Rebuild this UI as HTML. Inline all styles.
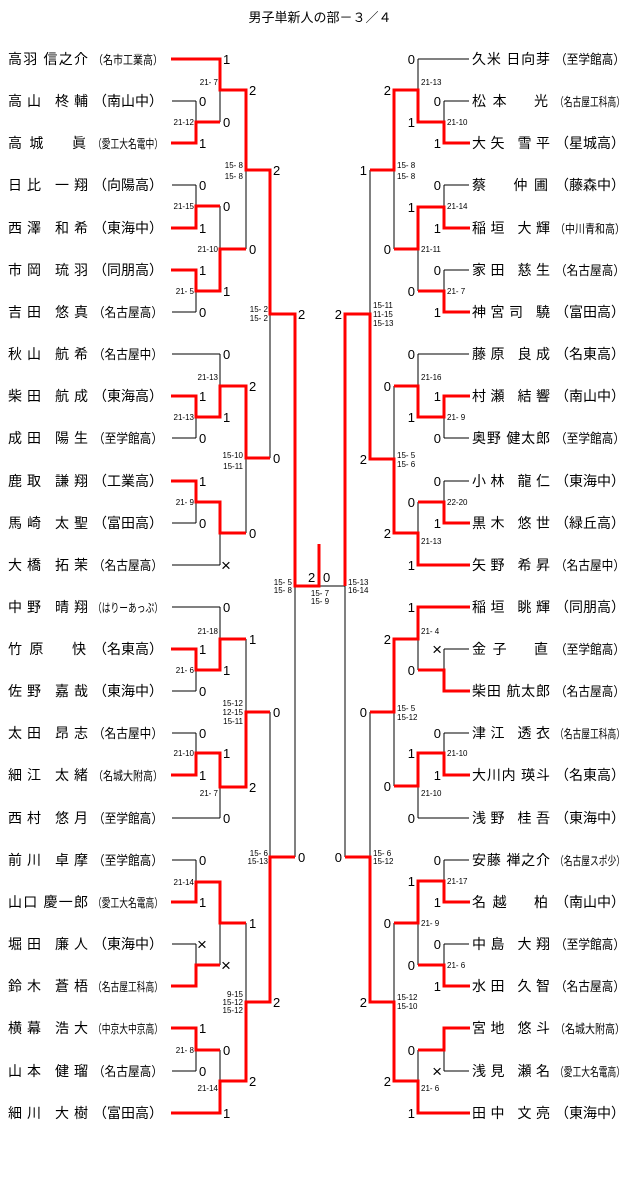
<!DOCTYPE html>
<html><head><meta charset="utf-8"><style>
html,body{margin:0;padding:0;background:#fff;}
svg{display:block;}
.n{font-family:"Liberation Sans","Noto Sans CJK JP",sans-serif;font-size:14px;fill:#000;}
.s{font-family:"Liberation Sans","Noto Sans CJK JP",sans-serif;font-size:12px;fill:#000;}
.c{font-family:"Liberation Sans",sans-serif;font-size:13px;fill:#000;}
.x{font-size:17px;}
.l{font-family:"Liberation Sans",sans-serif;font-size:8px;fill:#000;white-space:pre;}
.k{fill:none;stroke:#000;stroke-width:1;}
.r{fill:none;stroke:#f00;stroke-width:3;}
</style></head><body>
<svg width="640" height="1193" viewBox="0 0 640 1193" xmlns="http://www.w3.org/2000/svg">
<text x="320" y="22" text-anchor="middle" class="n" style="font-size:13px">男子単新人の部－３／４</text>

<path class="k" d="
M172 59H220 M172 101H196 M172 143H196 M172 185H196 M172 228H196 M172 270H196 M172 312H196
M172 354H220 M172 396H196 M172 438H196 M172 481H196 M172 523H196 M172 565H220
M172 607H220 M172 649H196 M172 691H196 M172 733H196 M172 775H196 M172 818H220
M172 860H196 M172 902H196 M172 944H196 M172 986H196 M172 1028H196 M172 1071H196 M172 1113H220
M196 101V143 M196 185V228 M196 270V312 M196 396V438 M196 481V523 M196 649V691 M196 733V775 M196 860V902 M196 944V986 M196 1028V1071
M196 122H220 M196 206H220 M196 291H220 M196 417H220 M196 502H220 M196 670H220 M196 753H220 M196 882H220 M196 965H220 M196 1050H220
M220 59V122 M220 206V291 M220 354V417 M220 502V565 M220 607V670 M220 753V818 M220 882V965 M220 1050V1113
M220 90H246 M220 249H246 M220 386H246 M220 533H246 M220 639H246 M220 787H246 M220 923H246 M220 1081H246
M246 90V249 M246 386V533 M246 639V787 M246 923V1081
M246 170H270 M246 458H270 M246 712H270 M246 1002H270
M270 170V458 M270 712V1002 M270 314H295 M270 857H295
M295 314V857 M295 586H345 M345 314V857
M469 59H418 M469 101H444 M469 143H444 M469 185H444 M469 228H444 M469 270H444 M469 312H444
M469 354H418 M469 396H444 M469 438H444 M469 481H444 M469 523H444 M469 565H418
M469 607H418 M469 649H444 M469 691H444 M469 733H444 M469 775H444 M469 818H418
M469 860H444 M469 902H444 M469 944H444 M469 986H444 M469 1028H444 M469 1071H444 M469 1113H418
M444 101V143 M444 185V228 M444 270V312 M444 396V438 M444 481V523 M444 649V691 M444 733V775 M444 860V902 M444 944V986 M444 1028V1071
M444 122H418 M444 207H418 M444 291H418 M444 417H418 M444 502H418 M444 670H418 M444 753H418 M444 881H418 M444 965H418 M444 1050H418
M418 59V122 M418 207V291 M418 354V417 M418 502V565 M418 607V670 M418 753V818 M418 881V965 M418 1050V1113
M418 90H394 M418 249H394 M418 386H394 M418 533H394 M418 639H394 M418 786H394 M418 923H394 M418 1081H394
M394 90V249 M394 386V533 M394 639V786 M394 923V1081
M394 170H370 M394 459H370 M394 712H370 M394 1002H370
M370 170V459 M370 712V1002 M370 314H345 M370 857H345"/>

<path class="r" d="
M171 59H220V90H246V170H270V314H295V586H319V544
M171 143H196V122H220 M171 228H196V206H220 M171 270H196V291H220V249H246
M171 396H196V417H220V386H246V458H270 M171 481H196V502H220V533H246
M171 649H196V670H220V639H246 M171 775H196V753H220V787H246V712H270
M171 902H196V882H220V923H246 M171 986H196V965H220 M171 1028H196V1050H220
M171 1113H220V1081H246V1002H270V857H295
M470 143H444V122H418V90H394V170H370 M470 228H444V207H418V249H394 M470 312H444V291H418
M470 396H444V417H418V386H394 M470 523H444V502H418
M470 565H418V533H394V459H370V314H345V586
M470 607H418V639H394V712H370 M470 691H444V670H418 M470 775H444V753H418V786H394
M470 902H444V881H418V923H394 M470 986H444V965H418 M470 1028H444V1050H418
M470 1113H418V1081H394V1002H370V857H345"/>

<g class="n">
<text x="8" y="64" textLength="80" lengthAdjust="spacing">高羽 信之介</text>
<text x="8" y="106" textLength="80" lengthAdjust="spacing">高山 柊輔</text>
<text x="8" y="148" textLength="78" lengthAdjust="spacing">高城　眞</text>
<text x="8" y="190" textLength="80" lengthAdjust="spacing">日比 一翔</text>
<text x="8" y="233" textLength="80" lengthAdjust="spacing">西澤 和希</text>
<text x="8" y="275" textLength="80" lengthAdjust="spacing">市岡 琉羽</text>
<text x="8" y="317" textLength="80" lengthAdjust="spacing">吉田 悠真</text>
<text x="8" y="359" textLength="80" lengthAdjust="spacing">秋山 航希</text>
<text x="8" y="401" textLength="80" lengthAdjust="spacing">柴田 航成</text>
<text x="8" y="443" textLength="80" lengthAdjust="spacing">成田 陽生</text>
<text x="8" y="486" textLength="80" lengthAdjust="spacing">鹿取 謙翔</text>
<text x="8" y="528" textLength="80" lengthAdjust="spacing">馬崎 太聖</text>
<text x="8" y="570" textLength="80" lengthAdjust="spacing">大橋 拓茉</text>
<text x="8" y="612" textLength="80" lengthAdjust="spacing">中野 晴翔</text>
<text x="8" y="654" textLength="78" lengthAdjust="spacing">竹原　快</text>
<text x="8" y="696" textLength="80" lengthAdjust="spacing">佐野 嘉哉</text>
<text x="8" y="738" textLength="80" lengthAdjust="spacing">太田 昂志</text>
<text x="8" y="780" textLength="80" lengthAdjust="spacing">細江 太緒</text>
<text x="8" y="823" textLength="80" lengthAdjust="spacing">西村 悠月</text>
<text x="8" y="865" textLength="80" lengthAdjust="spacing">前川 卓摩</text>
<text x="8" y="907" textLength="80" lengthAdjust="spacing">山口 慶一郎</text>
<text x="8" y="949" textLength="80" lengthAdjust="spacing">堀田 廉人</text>
<text x="8" y="991" textLength="80" lengthAdjust="spacing">鈴木 蒼梧</text>
<text x="8" y="1033" textLength="80" lengthAdjust="spacing">横幕 浩大</text>
<text x="8" y="1076" textLength="80" lengthAdjust="spacing">山本 健瑠</text>
<text x="8" y="1118" textLength="80" lengthAdjust="spacing">細川 大樹</text>
</g>
<g class="s">
<text x="93" y="64" textLength="70" lengthAdjust="spacingAndGlyphs">（名市工業高）</text>
<text x="93" y="106" textLength="70" lengthAdjust="spacingAndGlyphs" style="font-size:14px">（南山中）</text>
<text x="93" y="148" textLength="70" lengthAdjust="spacingAndGlyphs">（愛工大名電中）</text>
<text x="93" y="190" textLength="70" lengthAdjust="spacingAndGlyphs" style="font-size:14px">（向陽高）</text>
<text x="93" y="233" textLength="70" lengthAdjust="spacingAndGlyphs" style="font-size:14px">（東海中）</text>
<text x="93" y="275" textLength="70" lengthAdjust="spacingAndGlyphs" style="font-size:14px">（同朋高）</text>
<text x="93" y="317" textLength="70" lengthAdjust="spacingAndGlyphs" style="font-size:13px">（名古屋高）</text>
<text x="93" y="359" textLength="70" lengthAdjust="spacingAndGlyphs" style="font-size:13px">（名古屋中）</text>
<text x="93" y="401" textLength="70" lengthAdjust="spacingAndGlyphs" style="font-size:14px">（東海高）</text>
<text x="93" y="443" textLength="70" lengthAdjust="spacingAndGlyphs" style="font-size:13px">（至学館高）</text>
<text x="93" y="486" textLength="70" lengthAdjust="spacingAndGlyphs" style="font-size:14px">（工業高）</text>
<text x="93" y="528" textLength="70" lengthAdjust="spacingAndGlyphs" style="font-size:14px">（富田高）</text>
<text x="93" y="570" textLength="70" lengthAdjust="spacingAndGlyphs" style="font-size:13px">（名古屋高）</text>
<text x="93" y="612" textLength="70" lengthAdjust="spacingAndGlyphs">（はりーあっぷ）</text>
<text x="93" y="654" textLength="70" lengthAdjust="spacingAndGlyphs" style="font-size:14px">（名東高）</text>
<text x="93" y="696" textLength="70" lengthAdjust="spacingAndGlyphs" style="font-size:14px">（東海中）</text>
<text x="93" y="738" textLength="70" lengthAdjust="spacingAndGlyphs" style="font-size:13px">（名古屋中）</text>
<text x="93" y="780" textLength="70" lengthAdjust="spacingAndGlyphs">（名城大附高）</text>
<text x="93" y="823" textLength="70" lengthAdjust="spacingAndGlyphs" style="font-size:13px">（至学館高）</text>
<text x="93" y="865" textLength="70" lengthAdjust="spacingAndGlyphs" style="font-size:13px">（至学館高）</text>
<text x="93" y="907" textLength="70" lengthAdjust="spacingAndGlyphs">（愛工大名電高）</text>
<text x="93" y="949" textLength="70" lengthAdjust="spacingAndGlyphs" style="font-size:14px">（東海中）</text>
<text x="93" y="991" textLength="70" lengthAdjust="spacingAndGlyphs">（名古屋工科高）</text>
<text x="93" y="1033" textLength="70" lengthAdjust="spacingAndGlyphs">（中京大中京高）</text>
<text x="93" y="1076" textLength="70" lengthAdjust="spacingAndGlyphs" style="font-size:13px">（名古屋高）</text>
<text x="93" y="1118" textLength="70" lengthAdjust="spacingAndGlyphs" style="font-size:14px">（富田高）</text>
</g>

<g class="n">
<text x="472" y="64" textLength="78" lengthAdjust="spacing">久米 日向芽</text>
<text x="472" y="106" textLength="76" lengthAdjust="spacing">松本　光</text>
<text x="472" y="148" textLength="78" lengthAdjust="spacing">大矢 雪平</text>
<text x="472" y="190" textLength="76" lengthAdjust="spacing">蔡　仲圃</text>
<text x="472" y="233" textLength="78" lengthAdjust="spacing">稲垣 大輝</text>
<text x="472" y="275" textLength="78" lengthAdjust="spacing">家田 慈生</text>
<text x="472" y="317" textLength="78" lengthAdjust="spacing">神宮司 驍</text>
<text x="472" y="359" textLength="78" lengthAdjust="spacing">藤原 良成</text>
<text x="472" y="401" textLength="78" lengthAdjust="spacing">村瀬 結響</text>
<text x="472" y="443" textLength="78" lengthAdjust="spacing">奥野 健太郎</text>
<text x="472" y="486" textLength="78" lengthAdjust="spacing">小林 龍仁</text>
<text x="472" y="528" textLength="78" lengthAdjust="spacing">黒木 悠世</text>
<text x="472" y="570" textLength="78" lengthAdjust="spacing">矢野 希昇</text>
<text x="472" y="612" textLength="78" lengthAdjust="spacing">稲垣 眺輝</text>
<text x="472" y="654" textLength="76" lengthAdjust="spacing">金子　直</text>
<text x="472" y="696" textLength="78" lengthAdjust="spacing">柴田 航太郎</text>
<text x="472" y="738" textLength="78" lengthAdjust="spacing">津江 透衣</text>
<text x="472" y="780" textLength="78" lengthAdjust="spacing">大川内 瑛斗</text>
<text x="472" y="823" textLength="78" lengthAdjust="spacing">浅野 桂吾</text>
<text x="472" y="865" textLength="78" lengthAdjust="spacing">安藤 禅之介</text>
<text x="472" y="907" textLength="76" lengthAdjust="spacing">名越　柏</text>
<text x="472" y="949" textLength="78" lengthAdjust="spacing">中島 大翔</text>
<text x="472" y="991" textLength="78" lengthAdjust="spacing">水田 久智</text>
<text x="472" y="1033" textLength="78" lengthAdjust="spacing">宮地 悠斗</text>
<text x="472" y="1076" textLength="78" lengthAdjust="spacing">浅見 瀬名</text>
<text x="472" y="1118" textLength="78" lengthAdjust="spacing">田中 文亮</text>
</g>
<g class="s">
<text x="555" y="64" textLength="70" lengthAdjust="spacingAndGlyphs" style="font-size:13px">（至学館高）</text>
<text x="555" y="106" textLength="70" lengthAdjust="spacingAndGlyphs">（名古屋工科高）</text>
<text x="555" y="148" textLength="70" lengthAdjust="spacingAndGlyphs" style="font-size:14px">（星城高）</text>
<text x="555" y="190" textLength="70" lengthAdjust="spacingAndGlyphs" style="font-size:14px">（藤森中）</text>
<text x="555" y="233" textLength="70" lengthAdjust="spacingAndGlyphs">（中川青和高）</text>
<text x="555" y="275" textLength="70" lengthAdjust="spacingAndGlyphs" style="font-size:13px">（名古屋高）</text>
<text x="555" y="317" textLength="70" lengthAdjust="spacingAndGlyphs" style="font-size:14px">（富田高）</text>
<text x="555" y="359" textLength="70" lengthAdjust="spacingAndGlyphs" style="font-size:14px">（名東高）</text>
<text x="555" y="401" textLength="70" lengthAdjust="spacingAndGlyphs" style="font-size:14px">（南山中）</text>
<text x="555" y="443" textLength="70" lengthAdjust="spacingAndGlyphs" style="font-size:13px">（至学館高）</text>
<text x="555" y="486" textLength="70" lengthAdjust="spacingAndGlyphs" style="font-size:14px">（東海中）</text>
<text x="555" y="528" textLength="70" lengthAdjust="spacingAndGlyphs" style="font-size:14px">（緑丘高）</text>
<text x="555" y="570" textLength="70" lengthAdjust="spacingAndGlyphs" style="font-size:13px">（名古屋中）</text>
<text x="555" y="612" textLength="70" lengthAdjust="spacingAndGlyphs" style="font-size:14px">（同朋高）</text>
<text x="555" y="654" textLength="70" lengthAdjust="spacingAndGlyphs" style="font-size:13px">（至学館高）</text>
<text x="555" y="696" textLength="70" lengthAdjust="spacingAndGlyphs" style="font-size:13px">（名古屋高）</text>
<text x="555" y="738" textLength="70" lengthAdjust="spacingAndGlyphs">（名古屋工科高）</text>
<text x="555" y="780" textLength="70" lengthAdjust="spacingAndGlyphs" style="font-size:14px">（名東高）</text>
<text x="555" y="823" textLength="70" lengthAdjust="spacingAndGlyphs" style="font-size:14px">（東海中）</text>
<text x="555" y="865" textLength="70" lengthAdjust="spacingAndGlyphs">（名古屋スポ少）</text>
<text x="555" y="907" textLength="70" lengthAdjust="spacingAndGlyphs" style="font-size:14px">（南山中）</text>
<text x="555" y="949" textLength="70" lengthAdjust="spacingAndGlyphs" style="font-size:13px">（至学館高）</text>
<text x="555" y="991" textLength="70" lengthAdjust="spacingAndGlyphs" style="font-size:13px">（名古屋高）</text>
<text x="555" y="1033" textLength="70" lengthAdjust="spacingAndGlyphs">（名城大附高）</text>
<text x="555" y="1076" textLength="70" lengthAdjust="spacingAndGlyphs">（愛工大名電高）</text>
<text x="555" y="1118" textLength="70" lengthAdjust="spacingAndGlyphs" style="font-size:14px">（東海中）</text>
</g>

<g class="c">
<text x="199" y="106">0</text><text x="199" y="148">1</text><text x="199" y="190">0</text><text x="199" y="233">1</text>
<text x="199" y="275">1</text><text x="199" y="317">0</text><text x="199" y="401">1</text><text x="199" y="443">0</text>
<text x="199" y="486">1</text><text x="199" y="528">0</text><text x="199" y="654">1</text><text x="199" y="696">0</text>
<text x="199" y="738">0</text><text x="199" y="780">1</text><text x="199" y="865">0</text><text x="199" y="907">1</text>
<text x="197" y="950" class="x">×</text><text x="199" y="1033">1</text><text x="199" y="1076">0</text>
<text x="223" y="64">1</text><text x="223" y="127">0</text><text x="223" y="211">0</text><text x="223" y="296">1</text>
<text x="223" y="359">0</text><text x="223" y="422">1</text><text x="221" y="571" class="x">×</text><text x="223" y="612">0</text>
<text x="223" y="675">1</text><text x="223" y="758">1</text><text x="223" y="823">0</text><text x="221" y="971" class="x">×</text>
<text x="223" y="1055">0</text><text x="223" y="1118">1</text>
<text x="249" y="95">2</text><text x="249" y="254">0</text><text x="249" y="391">2</text><text x="249" y="538">0</text>
<text x="249" y="644">1</text><text x="249" y="792">2</text><text x="249" y="928">1</text><text x="249" y="1086">2</text>
<text x="273" y="175">2</text><text x="273" y="463">0</text><text x="273" y="717">0</text><text x="273" y="1007">2</text>
<text x="298" y="319">2</text><text x="298" y="862">0</text>
<text x="308" y="582">2</text><text x="323" y="582">0</text>
</g>
<g class="c" text-anchor="end">
<text x="441" y="106">0</text><text x="441" y="148">1</text><text x="441" y="190">0</text><text x="441" y="233">1</text>
<text x="441" y="275">0</text><text x="441" y="317">1</text><text x="441" y="401">1</text><text x="441" y="443">0</text>
<text x="441" y="486">0</text><text x="441" y="528">1</text><text x="442" y="655" class="x">×</text><text x="441" y="738">0</text>
<text x="441" y="780">1</text><text x="441" y="865">0</text><text x="441" y="907">1</text><text x="441" y="949">0</text>
<text x="441" y="991">1</text><text x="442" y="1077" class="x">×</text>
<text x="415" y="64">0</text><text x="415" y="127">1</text><text x="415" y="212">1</text><text x="415" y="296">0</text>
<text x="415" y="359">0</text><text x="415" y="422">1</text><text x="415" y="507">0</text><text x="415" y="570">1</text>
<text x="415" y="612">1</text><text x="415" y="675">0</text><text x="415" y="758">1</text><text x="415" y="823">0</text>
<text x="415" y="886">1</text><text x="415" y="970">0</text><text x="415" y="1055">0</text><text x="415" y="1118">1</text>
<text x="391" y="95">2</text><text x="391" y="254">0</text><text x="391" y="391">0</text><text x="391" y="538">2</text>
<text x="391" y="644">2</text><text x="391" y="791">0</text><text x="391" y="928">0</text><text x="391" y="1086">2</text>
<text x="367" y="175">1</text><text x="367" y="464">2</text><text x="367" y="717">0</text><text x="367" y="1007">2</text>
<text x="342" y="319">2</text><text x="342" y="862">0</text>
</g>

<g class="l" text-anchor="end">
<text x="218" y="85">21- 7</text><text x="218" y="252">21-10</text><text x="218" y="380">21-13</text>
<text x="218" y="634">21-18</text><text x="218" y="796">21- 7</text><text x="218" y="1091">21-14</text>
<text x="194" y="125">21-12</text><text x="194" y="209">21-15</text><text x="194" y="294">21- 5</text>
<text x="194" y="420">21-13</text><text x="194" y="505">21- 9</text><text x="194" y="673">21- 6</text>
<text x="194" y="756">21-10</text><text x="194" y="885">21-14</text><text x="194" y="1053">21- 8</text>
<text x="243" y="168">15- 8</text><text x="243" y="179">15- 8</text>
<text x="243" y="458">15-10</text><text x="243" y="469">15-11</text>
<text x="243" y="706">15-12</text><text x="243" y="715">12-15</text><text x="243" y="724">15-11</text>
<text x="243" y="997">9-15</text><text x="243" y="1005">15-12</text><text x="243" y="1013">15-12</text>
<text x="268" y="312">15- 2</text><text x="268" y="321">15- 2</text>
<text x="268" y="856">15- 6</text><text x="268" y="864">15-13</text>
<text x="292" y="585">15- 5</text><text x="292" y="593">15- 8</text>
</g>
<g class="l" text-anchor="middle">
<text x="320" y="596">15- 7</text><text x="320" y="604">15- 9</text>
</g>
<g class="l">
<text x="348" y="585">15-13</text><text x="348" y="593">16-14</text>
<text x="421" y="85">21-13</text><text x="421" y="252">21-11</text><text x="421" y="380">21-16</text>
<text x="421" y="544">21-13</text><text x="421" y="634">21- 4</text><text x="421" y="796">21-10</text>
<text x="421" y="926">21- 9</text><text x="421" y="1091">21- 6</text>
<text x="447" y="125">21-10</text><text x="447" y="209">21-14</text><text x="447" y="294">21- 7</text>
<text x="447" y="420">21- 9</text><text x="447" y="505">22-20</text><text x="447" y="756">21-10</text>
<text x="447" y="884">21-17</text><text x="447" y="968">21- 6</text>
<text x="397" y="168">15- 8</text><text x="397" y="179">15- 8</text>
<text x="397" y="458">15- 5</text><text x="397" y="467">15- 6</text>
<text x="397" y="711">15- 5</text><text x="397" y="720">15-12</text>
<text x="397" y="1000">15-12</text><text x="397" y="1009">15-10</text>
<text x="373" y="308">15-11</text><text x="373" y="317">11-15</text><text x="373" y="326">15-13</text>
<text x="373" y="856">15- 6</text><text x="373" y="864">15-12</text>
</g>
</svg>
</body></html>
